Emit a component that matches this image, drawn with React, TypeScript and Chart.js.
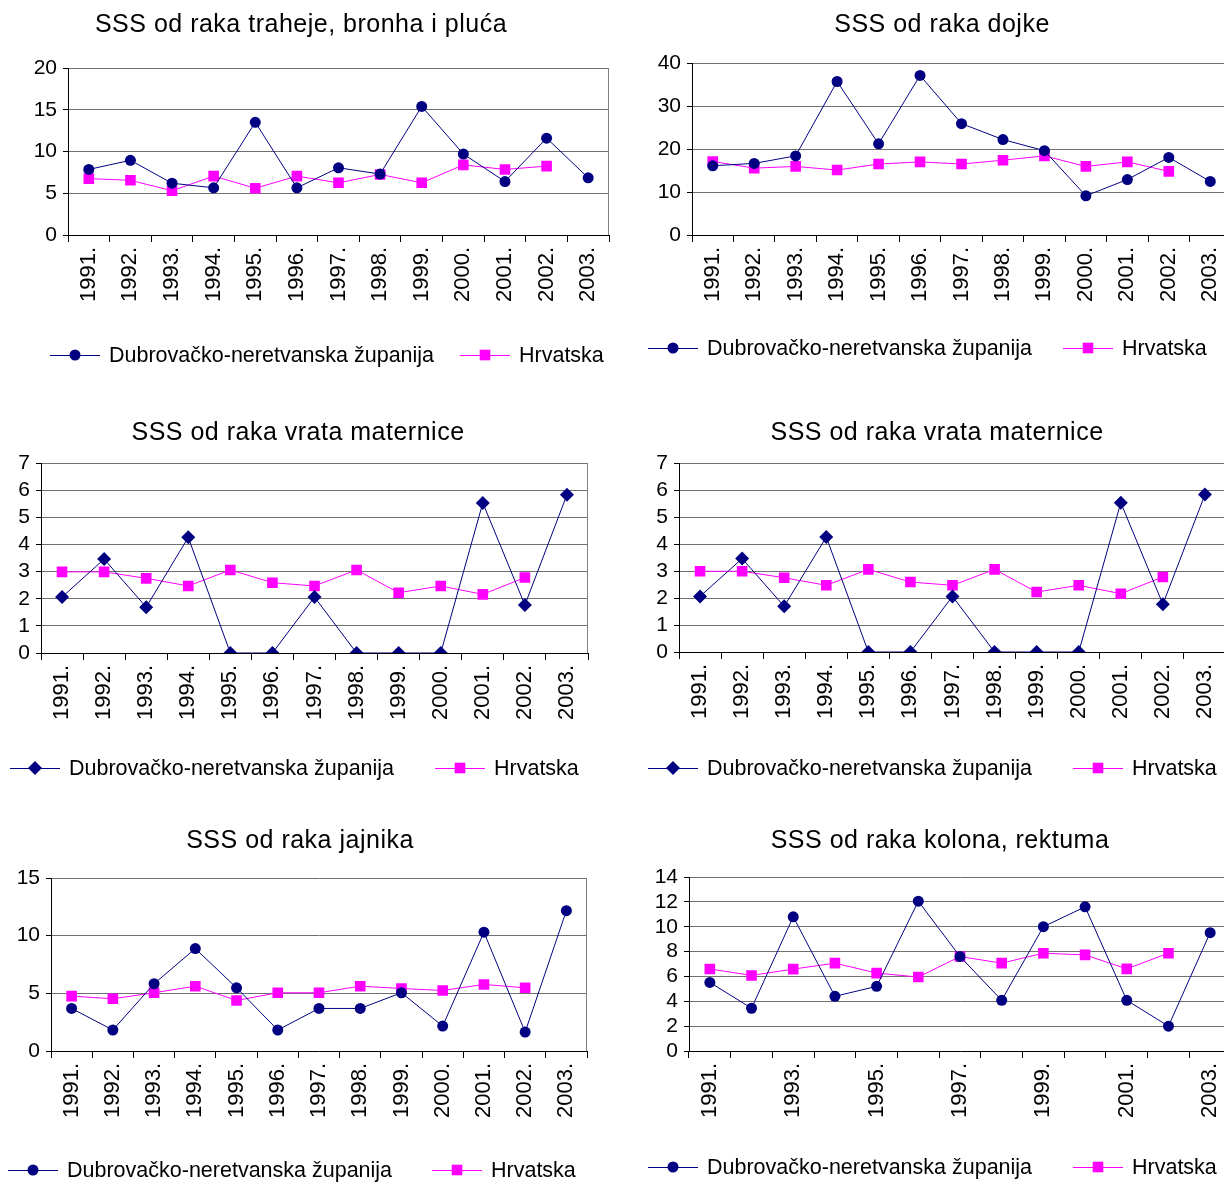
import React, { useEffect, useRef } from "react";
import { Chart, registerables } from "chart.js";

Chart.register(...registerables);

const years = ["1991.", "1992.", "1993.", "1994.", "1995.", "1996.", "1997.", "1998.", "1999.", "2000.", "2001.", "2002.", "2003."];
const seriesNames = ["Dubrovačko-neretvanska županija", "Hrvatska"];

const trahejaDN = [7.85, 8.95, 6.2, 5.65, 13.5, 5.65, 8.05, 7.3, 15.4, 9.7, 6.4, 11.6, 6.85];
const trahejaHR = [6.75, 6.55, 5.3, 7.05, 5.6, 7.05, 6.25, 7.25, 6.25, 8.4, 7.85, 8.25, null];

const dojkaDN = [16.1, 16.65, 18.4, 35.7, 21.2, 37.1, 25.9, 22.2, 19.6, 9.1, 12.9, 18.05, 12.45];
const dojkaHR = [17.1, 15.55, 15.95, 15.1, 16.5, 17.0, 16.5, 17.4, 18.4, 15.95, 17.0, 14.8, null];

const maternicaDN = [2.06, 3.46, 1.69, 4.26, 0, 0, 2.06, 0, 0, 0, 5.53, 1.77, 5.83];
const maternicaHR = [2.99, 2.99, 2.75, 2.47, 3.06, 2.59, 2.47, 3.06, 2.22, 2.47, 2.16, 2.78, null];

const jajnikDN = [3.69, 1.82, 5.83, 8.88, 5.48, 1.82, 3.69, 3.69, 5.05, 2.16, 10.3, 1.64, 12.17];
const jajnikHR = [4.76, 4.53, 5.05, 5.62, 4.38, 5.05, 5.05, 5.62, 5.42, 5.25, 5.77, 5.48, null];

const kolonDN = [5.52, 3.44, 10.8, 4.4, 5.2, 12.05, 7.6, 4.08, 10.0, 11.6, 4.08, 2.0, 9.52];
const kolonHR = [6.6, 6.08, 6.59, 7.07, 6.27, 5.95, 7.6, 7.07, 7.87, 7.73, 6.61, 7.87, null];

const FONT = "'Liberation Sans', Arial, sans-serif";
const NAVY = "#000080";
const PINK = "#FF00FF";

type Cfg = {
  title: string;
  dn: (number | null)[];
  hr: (number | null)[];
  yMax: number;
  yStep: number;
  marker: string;
  everyOther?: boolean;
  canvas: { x: number; y: number; w: number; h: number };
  plot: { l: number; t: number; r: number; b: number };
  titlePos: { x: number; y: number };
  legend: { y: number; items: number[] };
};

const charts: Cfg[] = [
  {
    title: "SSS od raka traheje, bronha i pluća", dn: trahejaDN, hr: trahejaHR, yMax: 20, yStep: 5, marker: "circle",
    canvas: { x: 0, y: 0, w: 640, h: 400 }, plot: { l: 68, t: 68, r: 609, b: 235 },
    titlePos: { x: 301, y: 25 }, legend: { y: 355, items: [50, 460] },
  },
  {
    title: "SSS od raka dojke", dn: dojkaDN, hr: dojkaHR, yMax: 40, yStep: 10, marker: "circle",
    canvas: { x: 612, y: 0, w: 660, h: 400 }, plot: { l: 692, t: 63, r: 1231, b: 235 },
    titlePos: { x: 942, y: 25 }, legend: { y: 348, items: [648, 1063] },
  },
  {
    title: "SSS od raka vrata maternice", dn: maternicaDN, hr: maternicaHR, yMax: 7, yStep: 1, marker: "rectRot",
    canvas: { x: 0, y: 400, w: 620, h: 405 }, plot: { l: 41, t: 463, r: 588, b: 653 },
    titlePos: { x: 298, y: 433 }, legend: { y: 768, items: [10, 435] },
  },
  {
    title: "SSS od raka vrata maternice", dn: maternicaDN, hr: maternicaHR, yMax: 7, yStep: 1, marker: "rectRot",
    canvas: { x: 612, y: 400, w: 660, h: 405 }, plot: { l: 679, t: 463, r: 1226, b: 652 },
    titlePos: { x: 937, y: 433 }, legend: { y: 768, items: [648, 1073] },
  },
  {
    title: "SSS od raka jajnika", dn: jajnikDN, hr: jajnikHR, yMax: 15, yStep: 5, marker: "circle",
    canvas: { x: 0, y: 805, w: 620, h: 377 }, plot: { l: 51, t: 878, r: 587, b: 1051 },
    titlePos: { x: 300, y: 841 }, legend: { y: 1170, items: [8, 432] },
  },
  {
    title: "SSS od raka kolona, rektuma", dn: kolonDN, hr: kolonHR, yMax: 14, yStep: 2, marker: "circle", everyOther: true,
    canvas: { x: 612, y: 805, w: 660, h: 377 }, plot: { l: 689, t: 877, r: 1231, b: 1051 },
    titlePos: { x: 940, y: 841 }, legend: { y: 1167, items: [648, 1073] },
  },
];

const X_H = 100;

function drawMarker(ctx: CanvasRenderingContext2D, style: string, x: number, y: number, color: string) {
  ctx.fillStyle = color;
  ctx.beginPath();
  if (style === "circle") {
    ctx.arc(x, y, 5.5, 0, Math.PI * 2);
  } else if (style === "rectRot") {
    ctx.moveTo(x - 7, y);
    ctx.lineTo(x, y - 7);
    ctx.lineTo(x + 7, y);
    ctx.lineTo(x, y + 7);
    ctx.closePath();
  } else {
    ctx.rect(x - 5.3, y - 5.3, 10.6, 10.6);
  }
  ctx.fill();
}

function ChartBox({ cfg }: { cfg: Cfg }) {
  const ref = useRef<HTMLCanvasElement>(null);
  useEffect(() => {
    const c = cfg.canvas;
    const p = cfg.plot;
    const deco = {
      id: "deco",
      afterDraw(chart: any) {
        const ctx = chart.ctx as CanvasRenderingContext2D;
        const a = chart.chartArea;
        ctx.save();
        ctx.strokeStyle = "#808080";
        ctx.lineWidth = 1;
        ctx.beginPath();
        ctx.moveTo(Math.round(a.right) - 0.5, a.top);
        ctx.lineTo(Math.round(a.right) - 0.5, a.bottom);
        ctx.stroke();
        ctx.fillStyle = "#000";
        ctx.font = `25px ${FONT}`;
        (ctx as any).letterSpacing = "0.5px";
        ctx.textAlign = "center";
        ctx.textBaseline = "middle";
        ctx.fillText(cfg.title, cfg.titlePos.x - c.x, cfg.titlePos.y - c.y);
        (ctx as any).letterSpacing = "0px";
        const ly = cfg.legend.y - c.y;
        const styles = [cfg.marker, "rect"];
        const colors = [NAVY, PINK];
        cfg.legend.items.forEach((lx0, i) => {
          const lx = lx0 - c.x;
          ctx.strokeStyle = colors[i];
          ctx.lineWidth = 1;
          ctx.beginPath();
          ctx.moveTo(lx, ly + 0.5);
          ctx.lineTo(lx + 50, ly + 0.5);
          ctx.stroke();
          drawMarker(ctx, styles[i], lx + 25, ly, colors[i]);
          ctx.fillStyle = "#000";
          ctx.font = `21.5px ${FONT}`;
          ctx.textAlign = "left";
          ctx.textBaseline = "middle";
          ctx.fillText(seriesNames[i], lx + 59, ly + 1);
        });
        ctx.restore();
      },
    };
    const chart = new Chart(ref.current as HTMLCanvasElement, {
      type: "line",
      data: {
        labels: years,
        datasets: [
          {
            label: seriesNames[0],
            data: cfg.dn,
            borderColor: NAVY,
            backgroundColor: NAVY,
            borderWidth: 1,
            pointStyle: cfg.marker as any,
            pointRadius: cfg.marker === "circle" ? 5.5 : 7,
            pointBorderWidth: 0,
            tension: 0,
          },
          {
            label: seriesNames[1],
            data: cfg.hr,
            borderColor: PINK,
            backgroundColor: PINK,
            borderWidth: 1,
            pointStyle: "rect",
            pointRadius: 7.5,
            pointBorderWidth: 0,
            tension: 0,
          },
        ],
      },
      options: {
        responsive: false,
        animation: false,
        layout: {
          padding: {
            left: 0,
            top: p.t - c.y,
            right: c.x + c.w - p.r,
            bottom: c.y + c.h - p.b - X_H,
          },
        },
        plugins: { legend: { display: false }, title: { display: false }, tooltip: { enabled: false } },
        scales: {
          x: {
            offset: true,
            afterFit: (s: any) => { s.height = X_H; },
            grid: { display: true, drawOnChartArea: false, drawTicks: true, tickLength: 7, tickColor: "#000", offset: true },
            border: { color: "#000", width: 1 },
            ticks: {
              autoSkip: false,
              minRotation: 90,
              maxRotation: 90,
              padding: 5,
              color: "#000",
              font: { family: FONT, size: 22 },
              callback: function (this: any, _v: any, i: number) {
                if (cfg.everyOther && i % 2 === 1) return "";
                return years[i];
              },
            },
          },
          y: {
            min: 0,
            max: cfg.yMax,
            afterFit: (s: any) => { s.width = p.l - c.x; },
            grid: { color: "#707070", lineWidth: 1, tickLength: 5, tickColor: "#000" },
            border: { color: "#000", width: 1 },
            ticks: { stepSize: cfg.yStep, autoSkip: false, padding: 6, color: "#000", font: { family: FONT, size: 21 } },
          },
        },
      },
      plugins: [deco],
    });
    return () => chart.destroy();
  }, [cfg]);
  const c = cfg.canvas;
  return (
    <canvas
      ref={ref}
      width={c.w}
      height={c.h}
      style={{ position: "absolute", left: c.x, top: c.y, width: c.w, height: c.h }}
    />
  );
}

export default function App() {
  return (
    <div style={{ position: "absolute", left: 0, top: 0, width: 1224, height: 1182, overflow: "hidden", background: "#fff" }}>
      {charts.map((cfg, i) => (
        <ChartBox key={i} cfg={cfg} />
      ))}
    </div>
  );
}
